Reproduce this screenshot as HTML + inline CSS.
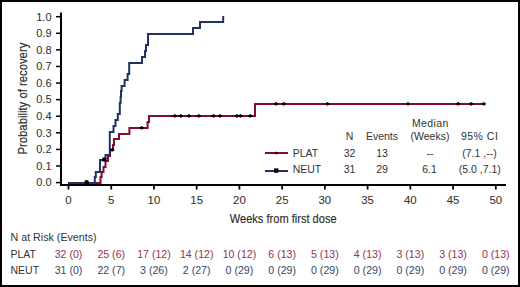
<!DOCTYPE html>
<html><head><meta charset="utf-8"><style>
html,body{margin:0;padding:0;background:#fff;}
svg{display:block;}
text{font-family:"Liberation Sans",sans-serif;}
.tk{font-size:11px;fill:#333;stroke:#333;stroke-width:0.08px;}
.xt{font-size:11.4px;}
.lg{font-size:10.5px;fill:#333;}
.tb{font-size:10.6px;}
.ax{font-size:13.6px;fill:#2a2a2a;stroke:#2a2a2a;stroke-width:0.15px;}
</style></head><body>
<svg width="520" height="287" viewBox="0 0 520 287">
<rect x="0" y="0" width="520" height="287" fill="#fff"/>
<rect x="1" y="1" width="518" height="285" fill="none" stroke="#000" stroke-width="2"/>
<rect x="60" y="12.5" width="2" height="173.5" fill="#000"/>
<rect x="60" y="184" width="446" height="2" fill="#000"/>
<line x1="56" y1="182.60" x2="60" y2="182.60" stroke="#000" stroke-width="1.5"/><text x="51.5" y="186.40" text-anchor="end" class="tk">0.0</text><line x1="56" y1="166.01" x2="60" y2="166.01" stroke="#000" stroke-width="1.5"/><text x="51.5" y="169.81" text-anchor="end" class="tk">0.1</text><line x1="56" y1="149.42" x2="60" y2="149.42" stroke="#000" stroke-width="1.5"/><text x="51.5" y="153.22" text-anchor="end" class="tk">0.2</text><line x1="56" y1="132.83" x2="60" y2="132.83" stroke="#000" stroke-width="1.5"/><text x="51.5" y="136.63" text-anchor="end" class="tk">0.3</text><line x1="56" y1="116.24" x2="60" y2="116.24" stroke="#000" stroke-width="1.5"/><text x="51.5" y="120.04" text-anchor="end" class="tk">0.4</text><line x1="56" y1="99.65" x2="60" y2="99.65" stroke="#000" stroke-width="1.5"/><text x="51.5" y="103.45" text-anchor="end" class="tk">0.5</text><line x1="56" y1="83.06" x2="60" y2="83.06" stroke="#000" stroke-width="1.5"/><text x="51.5" y="86.86" text-anchor="end" class="tk">0.6</text><line x1="56" y1="66.47" x2="60" y2="66.47" stroke="#000" stroke-width="1.5"/><text x="51.5" y="70.27" text-anchor="end" class="tk">0.7</text><line x1="56" y1="49.88" x2="60" y2="49.88" stroke="#000" stroke-width="1.5"/><text x="51.5" y="53.68" text-anchor="end" class="tk">0.8</text><line x1="56" y1="33.29" x2="60" y2="33.29" stroke="#000" stroke-width="1.5"/><text x="51.5" y="37.09" text-anchor="end" class="tk">0.9</text><line x1="56" y1="16.70" x2="60" y2="16.70" stroke="#000" stroke-width="1.5"/><text x="51.5" y="20.50" text-anchor="end" class="tk">1.0</text>
<line x1="68.50" y1="185" x2="68.50" y2="189.5" stroke="#000" stroke-width="1.8"/><text x="68.50" y="204" text-anchor="middle" class="tk xt">0</text><line x1="111.23" y1="185" x2="111.23" y2="189.5" stroke="#000" stroke-width="1.8"/><text x="111.23" y="204" text-anchor="middle" class="tk xt">5</text><line x1="153.96" y1="185" x2="153.96" y2="189.5" stroke="#000" stroke-width="1.8"/><text x="153.96" y="204" text-anchor="middle" class="tk xt">10</text><line x1="196.69" y1="185" x2="196.69" y2="189.5" stroke="#000" stroke-width="1.8"/><text x="196.69" y="204" text-anchor="middle" class="tk xt">15</text><line x1="239.42" y1="185" x2="239.42" y2="189.5" stroke="#000" stroke-width="1.8"/><text x="239.42" y="204" text-anchor="middle" class="tk xt">20</text><line x1="282.15" y1="185" x2="282.15" y2="189.5" stroke="#000" stroke-width="1.8"/><text x="282.15" y="204" text-anchor="middle" class="tk xt">25</text><line x1="324.88" y1="185" x2="324.88" y2="189.5" stroke="#000" stroke-width="1.8"/><text x="324.88" y="204" text-anchor="middle" class="tk xt">30</text><line x1="367.61" y1="185" x2="367.61" y2="189.5" stroke="#000" stroke-width="1.8"/><text x="367.61" y="204" text-anchor="middle" class="tk xt">35</text><line x1="410.34" y1="185" x2="410.34" y2="189.5" stroke="#000" stroke-width="1.8"/><text x="410.34" y="204" text-anchor="middle" class="tk xt">40</text><line x1="453.07" y1="185" x2="453.07" y2="189.5" stroke="#000" stroke-width="1.8"/><text x="453.07" y="204" text-anchor="middle" class="tk xt">45</text><line x1="495.80" y1="185" x2="495.80" y2="189.5" stroke="#000" stroke-width="1.8"/><text x="495.80" y="204" text-anchor="middle" class="tk xt">50</text>
<path d="M68.00,183.00 L100.50,183.00 L100.50,177.00 L101.60,177.00 L101.60,172.00 L103.50,172.00 L103.50,167.00 L105.50,167.00 L105.50,161.00 L108.00,161.00 L108.00,156.00 L110.00,156.00 L110.00,150.00 L113.00,150.00 L113.00,145.00 L114.00,145.00 L114.00,139.00 L119.00,139.00 L119.00,134.00 L129.40,134.00 L129.40,128.00 L147.60,128.00 L147.60,122.00 L149.00,122.00 L149.00,116.00 L255.00,116.00 L255.00,104.00 L485.00,104.00" fill="none" stroke="#820b2e" stroke-width="2"/>
<path d="M68.00,183.00 L94.80,183.00 L94.80,177.00 L95.80,177.00 L95.80,172.00 L100.00,172.00 L100.00,160.00 L105.50,160.00 L105.50,155.00 L109.80,155.00 L109.80,132.00 L113.50,132.00 L113.50,126.00 L115.50,126.00 L115.50,120.00 L117.80,120.00 L117.80,114.00 L119.80,114.00 L119.80,103.00 L120.60,103.00 L120.60,97.00 L121.00,97.00 L121.00,91.00 L121.60,91.00 L121.60,86.00 L124.60,86.00 L124.60,80.00 L127.60,80.00 L127.60,74.00 L129.20,74.00 L129.20,63.00 L142.00,63.00 L142.00,57.00 L145.00,57.00 L145.00,51.00 L146.00,51.00 L146.00,45.00 L148.00,45.00 L148.00,34.00 L193.00,34.00 L193.00,28.00 L200.00,28.00 L200.00,22.00 L223.20,22.00 L223.20,16.00" fill="none" stroke="#213263" stroke-width="2"/>
<path d="M84.80,182.90 L86.90,181.47 L89.00,182.90 L86.90,184.33Z" fill="#000" stroke="#000" stroke-width="0.9" stroke-linejoin="round"/><path d="M110.10,149.90 L112.20,148.47 L114.30,149.90 L112.20,151.33Z" fill="#000" stroke="#000" stroke-width="0.9" stroke-linejoin="round"/><path d="M139.60,127.90 L141.70,126.47 L143.80,127.90 L141.70,129.33Z" fill="#000" stroke="#000" stroke-width="0.9" stroke-linejoin="round"/><path d="M172.70,115.90 L174.80,114.47 L176.90,115.90 L174.80,117.33Z" fill="#000" stroke="#000" stroke-width="0.9" stroke-linejoin="round"/><path d="M178.70,115.90 L180.80,114.47 L182.90,115.90 L180.80,117.33Z" fill="#000" stroke="#000" stroke-width="0.9" stroke-linejoin="round"/><path d="M186.90,115.90 L189.00,114.47 L191.10,115.90 L189.00,117.33Z" fill="#000" stroke="#000" stroke-width="0.9" stroke-linejoin="round"/><path d="M196.70,115.90 L198.80,114.47 L200.90,115.90 L198.80,117.33Z" fill="#000" stroke="#000" stroke-width="0.9" stroke-linejoin="round"/><path d="M211.40,115.90 L213.50,114.47 L215.60,115.90 L213.50,117.33Z" fill="#000" stroke="#000" stroke-width="0.9" stroke-linejoin="round"/><path d="M217.90,115.90 L220.00,114.47 L222.10,115.90 L220.00,117.33Z" fill="#000" stroke="#000" stroke-width="0.9" stroke-linejoin="round"/><path d="M234.80,115.90 L236.90,114.47 L239.00,115.90 L236.90,117.33Z" fill="#000" stroke="#000" stroke-width="0.9" stroke-linejoin="round"/><path d="M238.30,115.90 L240.40,114.47 L242.50,115.90 L240.40,117.33Z" fill="#000" stroke="#000" stroke-width="0.9" stroke-linejoin="round"/><path d="M248.20,115.90 L250.30,114.47 L252.40,115.90 L250.30,117.33Z" fill="#000" stroke="#000" stroke-width="0.9" stroke-linejoin="round"/><path d="M273.90,103.90 L276.00,102.47 L278.10,103.90 L276.00,105.33Z" fill="#000" stroke="#000" stroke-width="0.9" stroke-linejoin="round"/><path d="M281.70,103.90 L283.80,102.47 L285.90,103.90 L283.80,105.33Z" fill="#000" stroke="#000" stroke-width="0.9" stroke-linejoin="round"/><path d="M325.40,103.90 L327.50,102.47 L329.60,103.90 L327.50,105.33Z" fill="#000" stroke="#000" stroke-width="0.9" stroke-linejoin="round"/><path d="M405.90,103.90 L408.00,102.47 L410.10,103.90 L408.00,105.33Z" fill="#000" stroke="#000" stroke-width="0.9" stroke-linejoin="round"/><path d="M456.00,103.90 L458.10,102.47 L460.20,103.90 L458.10,105.33Z" fill="#000" stroke="#000" stroke-width="0.9" stroke-linejoin="round"/><path d="M469.10,103.90 L471.20,102.47 L473.30,103.90 L471.20,105.33Z" fill="#000" stroke="#000" stroke-width="0.9" stroke-linejoin="round"/><path d="M481.60,103.90 L483.70,102.47 L485.80,103.90 L483.70,105.33Z" fill="#000" stroke="#000" stroke-width="0.9" stroke-linejoin="round"/><rect x="102.30" y="157.50" width="4.00" height="4.00" fill="#000"/><ellipse cx="86.6" cy="181.7" rx="2.2" ry="1.8" fill="#000"/>
<text class="ax" transform="translate(26.6,98.6) rotate(-90) scale(0.832,1)" text-anchor="middle">Probability of recovery</text>
<text class="ax" transform="translate(283.2,223.3) scale(0.815,1)" text-anchor="middle">Weeks from first dose</text>
<text x="349.5" y="139.5" text-anchor="middle" class="lg">N</text>
<text x="382" y="139.5" text-anchor="middle" class="lg">Events</text>
<text x="430.4" y="126.5" text-anchor="middle" class="lg" letter-spacing="0.4">Median</text>
<text x="430" y="139.5" text-anchor="middle" class="lg">(Weeks)</text>
<text x="479.6" y="139.5" text-anchor="middle" class="lg" letter-spacing="0.5">95% CI</text>
<line x1="265" y1="153" x2="288" y2="153" stroke="#820b2e" stroke-width="2"/>
<path d="M274.70,153.00 L276.20,151.98 L277.70,153.00 L276.20,154.02Z" fill="#000" stroke="#000" stroke-width="0.9" stroke-linejoin="round"/>
<line x1="265" y1="171" x2="288" y2="171" stroke="#213263" stroke-width="2"/>
<rect x="274.00" y="168.40" width="4.40" height="4.40" fill="#000"/>
<text x="292.7" y="156.5" class="lg">PLAT</text>
<text x="292.7" y="173" class="lg">NEUT</text>
<text x="349.5" y="156.5" text-anchor="middle" class="lg">32</text>
<text x="382" y="156.5" text-anchor="middle" class="lg">13</text>
<text x="430" y="156.5" text-anchor="middle" class="lg">--</text>
<text x="479.5" y="156.5" text-anchor="middle" class="lg">(7.1 ,--)</text>
<text x="349.5" y="173" text-anchor="middle" class="lg">31</text>
<text x="382" y="173" text-anchor="middle" class="lg">29</text>
<text x="429.5" y="173" text-anchor="middle" class="lg">6.1</text>
<text x="479.8" y="173" text-anchor="middle" class="lg">(5.0 ,7.1)</text>
<text x="10.5" y="241" class="lg" style="font-size:10.7px">N at Risk (Events)</text>
<text x="10.5" y="257.5" class="lg">PLAT</text>
<text x="10.5" y="274" class="lg">NEUT</text>
<text x="68.50" y="257.5" text-anchor="middle" class="tb" fill="#983250">32 (0)</text><text x="68.50" y="274" text-anchor="middle" class="tb" fill="#38466a">31 (0)</text><text x="111.23" y="257.5" text-anchor="middle" class="tb" fill="#983250">25 (6)</text><text x="111.23" y="274" text-anchor="middle" class="tb" fill="#38466a">22 (7)</text><text x="153.96" y="257.5" text-anchor="middle" class="tb" fill="#983250">17 (12)</text><text x="153.96" y="274" text-anchor="middle" class="tb" fill="#38466a">3 (26)</text><text x="196.69" y="257.5" text-anchor="middle" class="tb" fill="#983250">14 (12)</text><text x="196.69" y="274" text-anchor="middle" class="tb" fill="#38466a">2 (27)</text><text x="239.42" y="257.5" text-anchor="middle" class="tb" fill="#983250">10 (12)</text><text x="239.42" y="274" text-anchor="middle" class="tb" fill="#38466a">0 (29)</text><text x="282.15" y="257.5" text-anchor="middle" class="tb" fill="#983250">6 (13)</text><text x="282.15" y="274" text-anchor="middle" class="tb" fill="#38466a">0 (29)</text><text x="324.88" y="257.5" text-anchor="middle" class="tb" fill="#983250">5 (13)</text><text x="324.88" y="274" text-anchor="middle" class="tb" fill="#38466a">0 (29)</text><text x="367.61" y="257.5" text-anchor="middle" class="tb" fill="#983250">4 (13)</text><text x="367.61" y="274" text-anchor="middle" class="tb" fill="#38466a">0 (29)</text><text x="410.34" y="257.5" text-anchor="middle" class="tb" fill="#983250">3 (13)</text><text x="410.34" y="274" text-anchor="middle" class="tb" fill="#38466a">0 (29)</text><text x="453.07" y="257.5" text-anchor="middle" class="tb" fill="#983250">3 (13)</text><text x="453.07" y="274" text-anchor="middle" class="tb" fill="#38466a">0 (29)</text><text x="495.80" y="257.5" text-anchor="middle" class="tb" fill="#983250">0 (13)</text><text x="495.80" y="274" text-anchor="middle" class="tb" fill="#38466a">0 (29)</text>
</svg>
</body></html>
